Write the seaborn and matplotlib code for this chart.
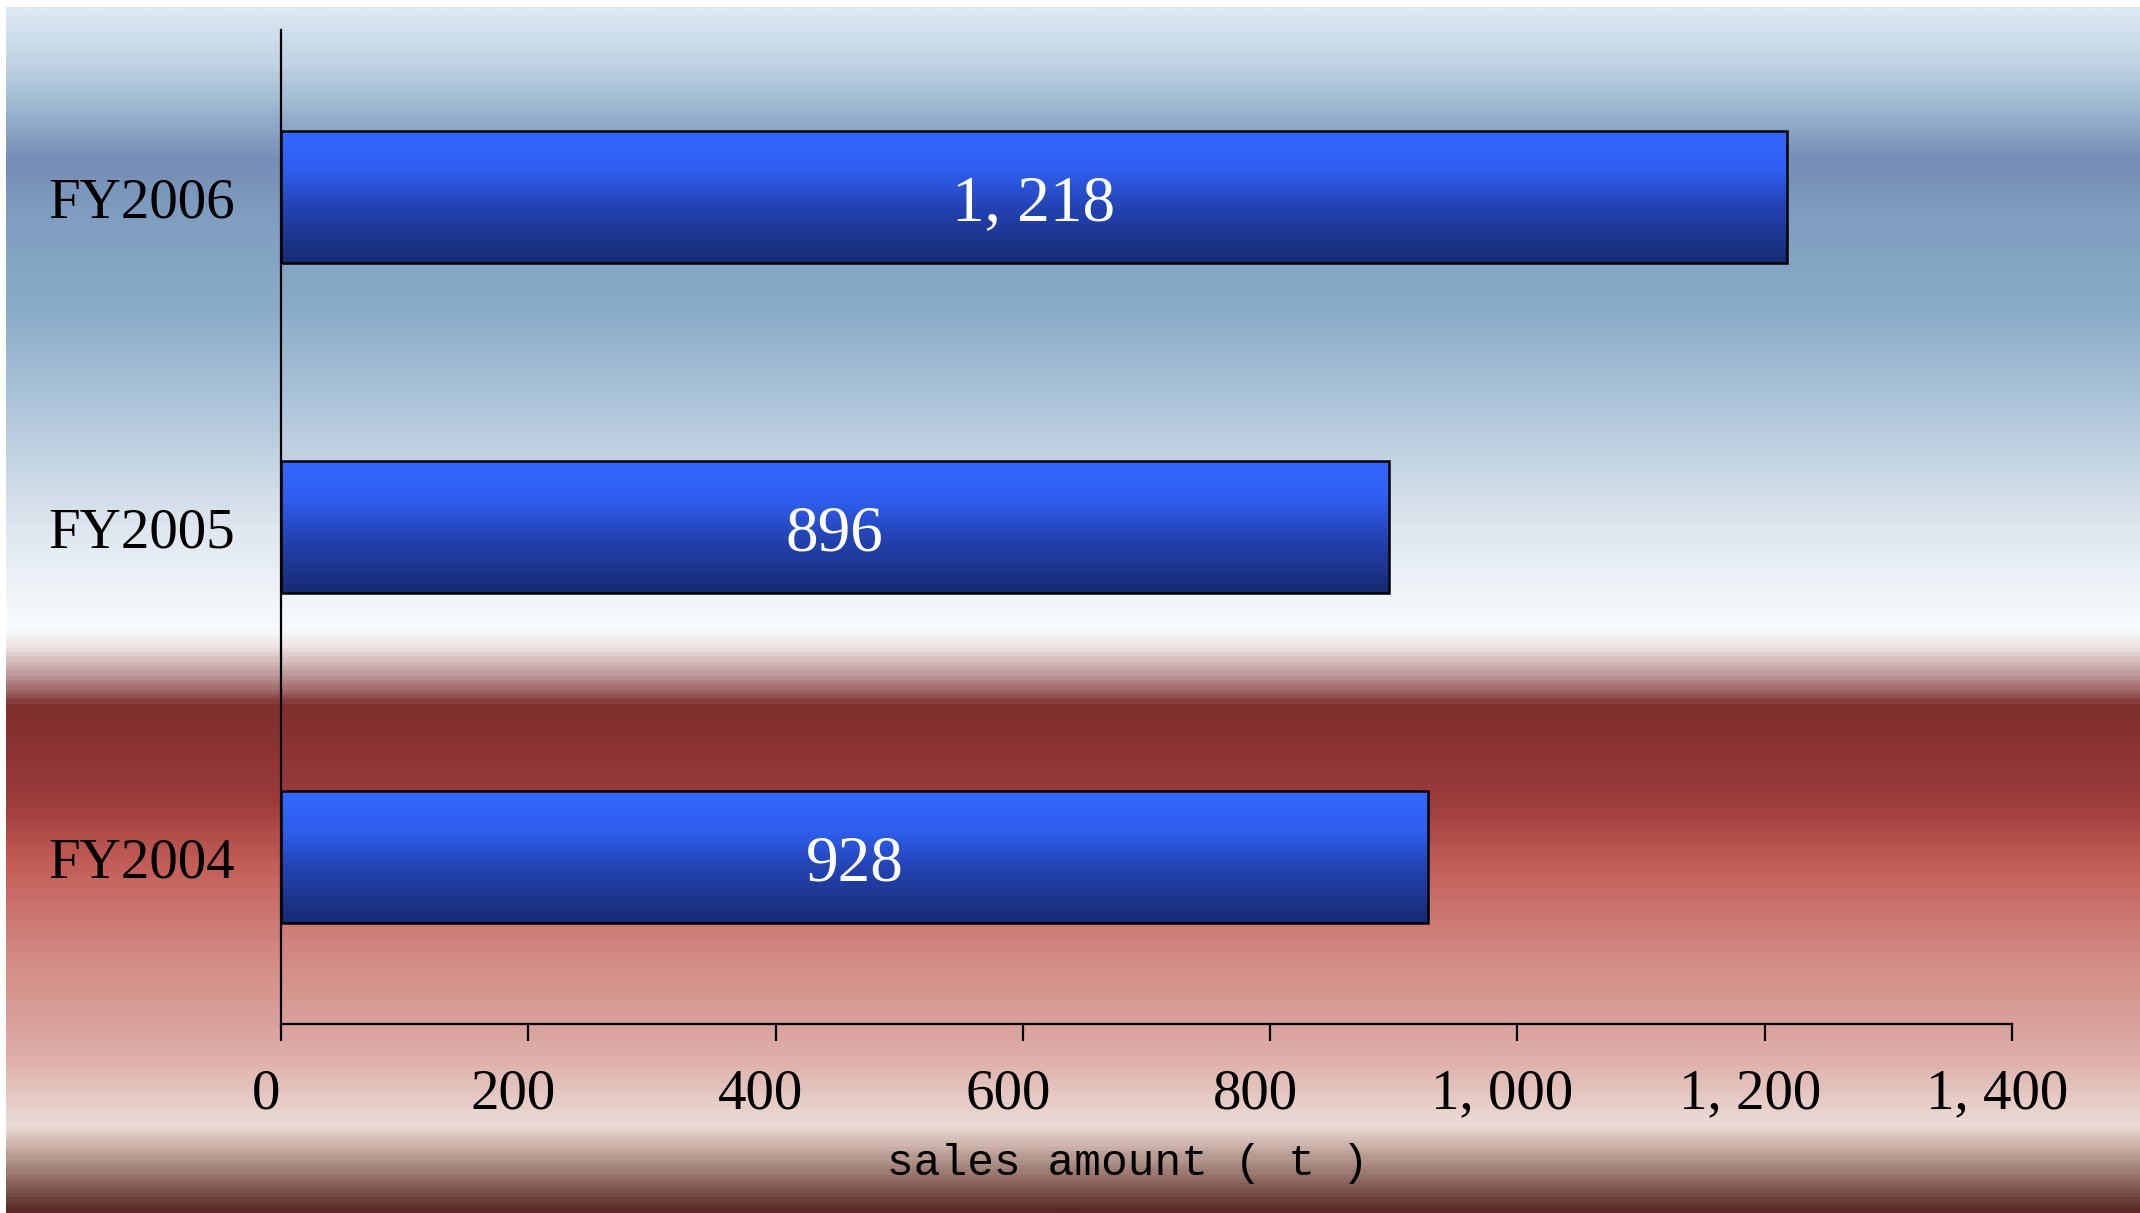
import numpy as np
import pandas as pd
import matplotlib
matplotlib.use("Agg")
import matplotlib.pyplot as plt
from matplotlib.colors import LinearSegmentedColormap
from matplotlib.ticker import FuncFormatter
from matplotlib.transforms import ScaledTranslation
import seaborn as sns

# データ
years = ["FY2006", "FY2005", "FY2004"]
sales = [1218, 896, 928]
xlabel = "sales amount ( t )"

df = pd.DataFrame({"year": years, "sales": sales})

sns.set_theme(style="white")
plt.rcParams["font.family"] = ["Liberation Serif", "DejaVu Serif"]

W, H = 2140, 1213
fig = plt.figure(figsize=(W / 100, H / 100), dpi=100)
fig.patch.set_facecolor("white")

# 背景のグラデーション (上: 青系, 下: 赤系)
bg_stops = [
    (0.000, "#dde9f3"),
    (0.045, "#bfd2e3"),
    (0.085, "#97b3cd"),
    (0.125, "#768cb5"),
    (0.170, "#7f9dc0"),
    (0.250, "#8aacc8"),
    (0.340, "#b3c8db"),
    (0.430, "#dee6ee"),
    (0.515, "#f8fcff"),
    (0.530, "#f0e4e4"),
    (0.560, "#b08585"),
    (0.580, "#7f2e2e"),
    (0.660, "#9c3c3b"),
    (0.710, "#c35c57"),
    (0.790, "#d38a84"),
    (0.870, "#ddaca7"),
    (0.930, "#ecdcd6"),
    (0.945, "#cfb6ae"),
    (0.965, "#a4857c"),
    (1.000, "#5a2b26"),
]
bg_cmap = LinearSegmentedColormap.from_list("bg", bg_stops)
bg = fig.add_axes([6 / W, 0, 1 - 6 / W, 1 - 7 / H], zorder=0)
bg.imshow(np.linspace(0, 1, 600).reshape(-1, 1), cmap=bg_cmap, aspect="auto",
          extent=(0, 1, 0, 1), origin="upper")
bg.set_axis_off()

ax = fig.add_axes([281 / W, 1 - 1024 / H, (2012 - 281) / W, (1024 - 30) / H], zorder=1)
ax.set_facecolor("none")

sns.barplot(data=df, x="sales", y="year", order=years, orient="h",
            width=0.4, color="#3366ff", edgecolor="black", linewidth=1.8, ax=ax)

# 棒のグラデーション
bar_cmap = LinearSegmentedColormap.from_list(
    "bar", [(0, "#3468ff"), (0.3, "#2f5ef0"), (0.6, "#2342b0"), (1, "#172b72")])
grad = np.linspace(0, 1, 200).reshape(-1, 1)
for p in ax.patches:
    x0, y0 = p.get_x(), p.get_y()
    w, h = p.get_width(), p.get_height()
    im = ax.imshow(grad, cmap=bar_cmap, aspect="auto",
                   extent=(x0, x0 + w, y0 + h, y0), origin="upper", zorder=2)
    im.set_clip_path(p)
    p.set_facecolor("none")
    p.set_zorder(3)

fmt = lambda v: f"{int(v):,}".replace(",", ", ")

for i, v in enumerate(sales):
    ax.text(v / 2, i, fmt(v), ha="center", va="center_baseline", color="white",
            fontsize=47, zorder=4)

ax.set_xlim(0, 1400)
ax.set_ylim(2.505, -0.507)
ax.set_xticks(np.arange(0, 1401, 200))
ax.xaxis.set_major_formatter(FuncFormatter(lambda v, _: fmt(v)))

for s in ["top", "right"]:
    ax.spines[s].set_visible(False)
for s in ["left", "bottom"]:
    ax.spines[s].set_color("black")
    ax.spines[s].set_linewidth(1.6)

ax.tick_params(axis="x", direction="out", length=12, width=1.6, color="black",
               pad=20, labelsize=41, labelcolor="black", bottom=True)
ax.tick_params(axis="y", length=0, pad=33, labelsize=41, labelcolor="black")

# x 軸の目盛ラベルを少し左へ
shift = ScaledTranslation(-0.15, 0, fig.dpi_scale_trans)
for lbl in ax.get_xticklabels():
    lbl.set_transform(lbl.get_transform() + shift)

ax.set_ylabel("")
ax.set_xlabel(xlabel, fontsize=32, family=["Liberation Mono", "DejaVu Sans Mono"],
              color="black", va="center")
ax.xaxis.set_label_coords((1128 - 281) / (2012 - 281), -(1163 - 1024) / (1024 - 30))

fig.savefig("out.png", dpi=100)
